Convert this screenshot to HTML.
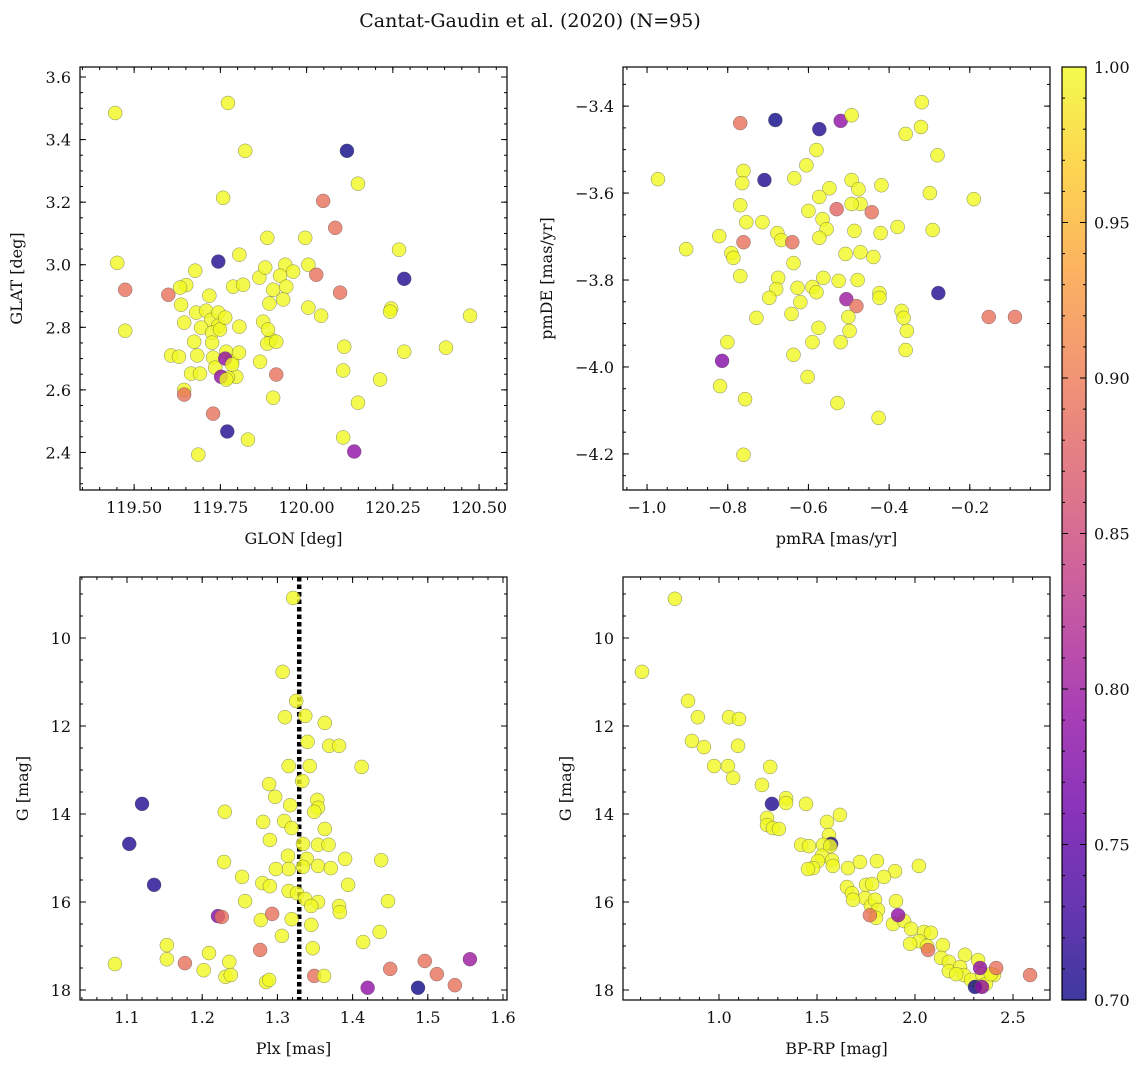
<!DOCTYPE html>
<html><head><meta charset="utf-8">
<style>
html,body{margin:0;padding:0;background:#fff;}
svg{display:block;font-family:"DejaVu Serif","Liberation Serif",serif;}
</style></head>
<body>
<svg id="fig" width="1148" height="1067" viewBox="0 0 1148 1067" xmlns="http://www.w3.org/2000/svg">
<text x="530" y="27" font-size="19" text-anchor="middle" fill="#111">Cantat-Gaudin et al. (2020) (N=95)</text>
</svg>
<script>
// ---- Panel 1: GLON vs GLAT ----
const p1x=[119.445,119.772,119.822,120.117,119.758,120.149,120.048,120.083,119.451,119.744,119.886,119.996,119.805,120.268,119.938,119.961,120.005,120.028,120.283,119.474,119.651,119.677,119.633,119.718,119.787,119.816,119.863,119.880,119.923,119.903,119.941,119.892,119.932,120.005,120.042,120.097,120.245,120.242,120.474,119.474,119.599,119.636,119.645,119.680,119.709,119.723,119.744,119.744,119.694,119.726,119.749,119.764,119.805,119.874,119.897,119.886,119.912,119.674,119.683,119.729,119.726,119.767,119.784,119.796,119.772,119.735,119.764,119.752,119.784,119.607,119.630,119.665,119.645,119.645,119.691,119.767,119.912,119.865,119.903,119.770,119.729,119.830,119.686,119.804,120.109,120.106,120.213,120.283,120.404,120.149,120.106,120.138,119.888];
const p1y=[3.485,3.517,3.364,3.364,3.214,3.259,3.204,3.118,3.006,3.010,3.086,3.086,3.032,3.048,3.000,2.978,3.000,2.968,2.955,2.920,2.935,2.981,2.927,2.901,2.930,2.936,2.959,2.991,2.965,2.920,2.930,2.876,2.889,2.863,2.837,2.911,2.860,2.850,2.837,2.789,2.904,2.872,2.815,2.847,2.853,2.824,2.847,2.805,2.799,2.783,2.793,2.831,2.802,2.818,2.761,2.748,2.754,2.754,2.710,2.703,2.751,2.722,2.690,2.642,2.639,2.671,2.700,2.642,2.681,2.710,2.706,2.652,2.600,2.585,2.652,2.633,2.649,2.690,2.575,2.467,2.524,2.441,2.393,2.719,2.738,2.662,2.633,2.722,2.735,2.559,2.448,2.403,2.793];
const p1c=[1,1,1,0.70,1,1,0.89,0.89,1,0.71,1,1,1,1,1,1,1,0.89,0.71,0.89,1,1,1,1,1,1,1,1,1,1,1,1,1,1,1,0.89,1,1,1,1,0.89,1,1,1,1,1,1,1,1,1,1,1,1,1,1,1,1,1,1,1,1,1,1,1,1,1,0.79,0.79,1,1,1,1,1,0.89,1,1,0.89,1,1,0.71,0.89,1,1,1,1,1,1,1,1,1,1,0.79,1];
// ---- Panel 2: pmRA vs pmDE ----
const p2x=[-0.769,-0.682,-0.573,-0.520,-0.493,-0.319,-0.321,-0.359,-0.280,-0.580,-0.709,-0.973,-0.761,-0.764,-0.635,-0.605,-0.548,-0.573,-0.419,-0.493,-0.476,-0.471,-0.493,-0.299,-0.190,-0.769,-0.600,-0.754,-0.714,-0.761,-0.565,-0.530,-0.443,-0.555,-0.677,-0.667,-0.640,-0.573,-0.486,-0.421,-0.379,-0.292,-0.471,-0.439,-0.508,-0.903,-0.821,-0.791,-0.786,-0.637,-0.769,-0.675,-0.563,-0.590,-0.627,-0.680,-0.697,-0.580,-0.525,-0.478,-0.424,-0.424,-0.506,-0.620,-0.729,-0.642,-0.481,-0.501,-0.369,-0.364,-0.356,-0.575,-0.498,-0.520,-0.590,-0.801,-0.359,-0.637,-0.814,-0.819,-0.602,-0.528,-0.757,-0.426,-0.761,-0.153,-0.088,-0.278];
const p2y=[-3.439,-3.432,-3.453,-3.434,-3.421,-3.391,-3.448,-3.464,-3.513,-3.501,-3.570,-3.568,-3.549,-3.577,-3.566,-3.536,-3.589,-3.609,-3.582,-3.570,-3.591,-3.625,-3.625,-3.600,-3.614,-3.628,-3.641,-3.667,-3.667,-3.713,-3.660,-3.637,-3.644,-3.683,-3.692,-3.708,-3.713,-3.703,-3.687,-3.692,-3.678,-3.685,-3.736,-3.747,-3.740,-3.729,-3.699,-3.738,-3.749,-3.761,-3.791,-3.795,-3.795,-3.816,-3.818,-3.821,-3.841,-3.828,-3.802,-3.800,-3.830,-3.841,-3.844,-3.851,-3.887,-3.878,-3.860,-3.885,-3.871,-3.887,-3.917,-3.910,-3.917,-3.943,-3.943,-3.943,-3.961,-3.972,-3.986,-4.044,-4.023,-4.083,-4.074,-4.117,-4.202,-3.885,-3.885,-3.830];
const p2c=[0.89,0.70,0.71,0.79,1,1,1,1,1,1,0.71,1,1,1,1,1,1,1,1,1,1,1,1,1,1,1,1,1,1,0.89,1,0.88,0.89,1,1,1,0.89,1,1,1,1,1,1,1,1,1,1,1,1,1,1,1,1,1,1,1,1,1,1,1,1,1,0.80,1,1,1,0.89,1,1,1,1,1,1,1,1,1,1,1,0.78,1,1,1,1,1,1,0.89,0.89,0.71];
// ---- Panel 3: Plx vs G ----
const p3x=[1.321,1.307,1.325,1.310,1.337,1.363,1.315,1.343,1.340,1.369,1.382,1.412,1.289,1.297,1.353,1.354,1.317,1.230,1.120,1.281,1.309,1.319,1.349,1.363,1.103,1.290,1.334,1.354,1.368,1.314,1.339,1.315,1.298,1.334,1.354,1.371,1.390,1.438,1.229,1.253,1.280,1.290,1.394,1.136,1.315,1.326,1.337,1.354,1.345,1.257,1.382,1.383,1.447,1.319,1.278,1.293,1.221,1.226,1.345,1.306,1.436,1.414,1.347,1.153,1.209,1.236,1.277,1.153,1.177,1.084,1.202,1.231,1.238,1.285,1.289,1.349,1.362,1.420,1.450,1.496,1.512,1.536,1.556,1.487,1.333];
const p3y=[9.09,10.77,11.43,11.80,11.77,11.93,12.91,12.91,12.36,12.45,12.45,12.93,13.32,13.61,13.68,13.86,13.80,13.95,13.77,14.18,14.16,14.32,13.95,14.34,14.68,14.59,14.68,14.70,14.70,14.95,15.02,15.25,15.25,15.20,15.18,15.23,15.02,15.05,15.09,15.43,15.57,15.64,15.61,15.61,15.75,15.80,15.93,16.00,16.09,15.98,16.09,16.23,15.98,16.39,16.41,16.27,16.32,16.34,16.52,16.77,16.68,16.91,17.05,16.98,17.16,17.36,17.09,17.30,17.39,17.41,17.55,17.70,17.66,17.82,17.77,17.68,17.68,17.95,17.52,17.34,17.64,17.89,17.30,17.95,13.25];
const p3c=[1,1,1,1,1,1,1,1,1,1,1,1,1,1,1,1,1,1,0.71,1,1,1,1,1,0.71,1,1,1,1,1,1,1,1,1,1,1,1,1,1,1,1,1,1,0.71,1,1,1,1,1,1,1,1,1,1,1,0.89,0.78,0.89,1,1,1,1,1,1,1,1,0.89,1,0.89,1,1,1,1,1,1,0.89,1,0.79,0.89,0.89,0.89,0.89,0.80,0.70,1];
const plxLine=1.329;
// ---- Panel 4: BP-RP vs G ----
const p4x=[0.775,0.607,0.842,0.892,1.051,1.102,0.862,0.923,1.097,0.975,1.046,1.261,1.072,1.219,1.342,1.342,1.270,1.444,1.617,1.245,1.245,1.275,1.306,1.551,1.561,1.572,1.419,1.459,1.531,1.567,1.525,1.505,1.577,1.480,1.454,1.581,1.658,1.719,1.806,2.020,1.898,1.750,1.781,1.653,1.842,1.678,1.745,1.775,1.796,1.811,1.903,1.801,1.770,1.888,1.944,1.914,1.980,2.046,2.081,2.020,2.061,2.142,2.067,2.133,2.173,2.255,2.173,2.230,2.322,2.250,2.286,2.342,2.403,2.332,2.362,2.387,2.306,2.342,2.332,2.587,2.414,1.684,1.975,2.210];
const p4y=[9.11,10.77,11.43,11.80,11.80,11.84,12.34,12.48,12.45,12.91,12.91,12.93,13.18,13.34,13.64,13.75,13.77,13.77,14.02,14.09,14.25,14.32,14.34,14.18,14.48,14.68,14.70,14.73,14.70,14.73,14.95,15.07,15.05,15.23,15.25,15.18,15.23,15.09,15.07,15.18,15.30,15.61,15.59,15.66,15.43,15.80,15.91,16.09,15.95,16.18,15.98,16.36,16.30,16.50,16.43,16.30,16.61,16.68,16.70,16.89,17.00,16.98,17.09,17.27,17.36,17.20,17.57,17.48,17.32,17.66,17.77,17.64,17.66,17.91,17.86,17.64,17.93,17.93,17.50,17.66,17.50,15.95,16.95,17.64];
const p4c=[1,1,1,1,1,1,1,1,1,1,1,1,1,1,1,1,0.71,1,1,1,1,1,1,1,1,0.71,1,1,1,1,1,1,1,1,1,1,1,1,1,1,1,1,1,1,1,1,1,1,1,1,1,1,0.89,1,1,0.79,1,1,1,1,1,1,0.89,1,1,1,1,1,1,1,1,1,1,1,1,1,0.70,0.79,0.79,0.89,0.89,1,1,1];
// colorbar ticks
const cbTicks=[0.70,0.75,0.80,0.85,0.90,0.95,1.00];

const NS="http://www.w3.org/2000/svg";
const svg=document.getElementById('fig');
function mk(tag,attrs,parent){const e=document.createElementNS(NS,tag);for(const k in attrs)e.setAttribute(k,attrs[k]);(parent||svg).appendChild(e);return e;}
const stops=[[0,13,8,135],[0.1,65,4,157],[0.2,106,0,168],[0.3,143,13,164],[0.4,177,42,144],[0.5,204,71,120],[0.6,225,100,98],[0.7,242,132,75],[0.8,252,166,54],[0.9,252,206,37],[1,240,249,33]];
function plasma(t){t=Math.max(0,Math.min(1,t));for(let i=1;i<stops.length;i++){if(t<=stops[i][0]){const a=stops[i-1],b=stops[i];const f=(t-a[0])/(b[0]-a[0]);return 'rgb('+[1,2,3].map(j=>Math.round(a[j]+(b[j]-a[j])*f)).join(',')+')';}}return 'rgb(240,249,33)';}
function cmap(p){return plasma((p-0.7)/0.3);}
function fmt(v,d){const s=Math.abs(v).toFixed(d);return (v<-1e-9?'\u2212':'')+s;}

function panel(o){
  const {L,T,W,H,xmin,xmax,ymin,ymax,inv}=o;
  const g=mk('g',{});
  
  
  const sx=v=>L+(v-xmin)/(xmax-xmin)*W;
  const sy=v=>inv? T+(v-ymin)/(ymax-ymin)*H : T+H-(v-ymin)/(ymax-ymin)*H;
  const B=T+H,R=L+W;
  const tg=mk('g',{stroke:'#000','stroke-width':1},g);
  
  
  function xt(step,len,lab,dec){const s0=Math.ceil(xmin/step-1e-6);for(let k=s0;k*step<=xmax+1e-9;k++){const v=k*step;const x=sx(v);mk('line',{x1:x,y1:B,x2:x,y2:B-len},tg);mk('line',{x1:x,y1:T,x2:x,y2:T+len},tg);
    if(lab){const t=mk('text',{x:x,y:B+23,'font-size':16,'text-anchor':'middle',fill:'#111',stroke:'none'},g);t.textContent=fmt(v,dec);}}}
  function yt(step,len,lab,dec){const lo=Math.min(ymin,ymax),hi=Math.max(ymin,ymax);const s0=Math.ceil(lo/step-1e-6);for(let k=s0;k*step<=hi+1e-9;k++){const v=k*step;const y=sy(v);mk('line',{x1:L,y1:y,x2:L+len,y2:y},tg);mk('line',{x1:R,y1:y,x2:R-len,y2:y},tg);
    if(lab){const t=mk('text',{x:L-9,y:y+6,'font-size':16,'text-anchor':'end',fill:'#111',stroke:'none'},g);t.textContent=fmt(v,dec);}}}
  xt(o.xmin_step,3,false);xt(o.xmaj,6,true,o.xdec);
  yt(o.ymin_step,3,false);yt(o.ymaj,6,true,o.ydec);
  if(o.vline!==undefined){const l=mk('line',{x1:sx(o.vline),y1:T,x2:sx(o.vline),y2:B,stroke:'#000','stroke-width':4.5,'stroke-dasharray':'4.5 3'},g);}
  const pg=mk('g',{},g);
  
  
  for(let i=0;i<o.xs.length;i++){
    const c=mk('circle',{cx:sx(o.xs[i]),cy:sy(o.ys[i]),r:7,fill:cmap(o.cs[i]),'fill-opacity':0.8,stroke:'#555','stroke-opacity':0.7,'stroke-width':0.5},pg);
    
    
  }
  const fr=mk('rect',{x:L,y:T,width:W,height:H,fill:'none',stroke:'#000','stroke-width':1.2},g);
  
  
  const xl=mk('text',{x:L+W/2,y:B+54,'font-size':16,'text-anchor':'middle',fill:'#111'},g);xl.textContent=o.xlabel;
  
  
  const yl=mk('text',{x:0,y:0,'font-size':16,'text-anchor':'middle',fill:'#111',transform:`translate(${o.ylx},${T+H/2}) rotate(-90)`},g);yl.textContent=o.ylabel;
  
  
}
panel({name:'glon-glat-panel',L:80,T:67,W:427,H:423,xmin:119.343,xmax:120.581,ymin:2.28,ymax:3.632,xmaj:0.25,xmin_step:0.05,xdec:2,ymaj:0.2,ymin_step:0.05,ydec:1,xs:p1x,ys:p1y,cs:p1c,xlabel:'GLON [deg]',ylabel:'GLAT [deg]',ylx:22});
panel({name:'proper-motion-panel',L:623,T:67,W:427,H:423,xmin:-1.0596,xmax:-0.0012,ymin:-4.283,ymax:-3.310,xmaj:0.2,xmin_step:0.05,xdec:1,ymaj:0.2,ymin_step:0.05,ydec:1,xs:p2x,ys:p2y,cs:p2c,xlabel:'pmRA [mas/yr]',ylabel:'pmDE [mas/yr]',ylx:552});
panel({name:'parallax-magnitude-panel',L:80,T:577,W:427,H:423,xmin:1.0375,xmax:1.6053,ymin:8.614,ymax:18.227,inv:true,xmaj:0.1,xmin_step:0.02,xdec:1,ymaj:2,ymin_step:0.5,ydec:0,xs:p3x,ys:p3y,cs:p3c,xlabel:'Plx [mas]',ylabel:'G [mag]',ylx:28,vline:plxLine});
panel({name:'color-magnitude-panel',L:623,T:577,W:427,H:423,xmin:0.5102,xmax:2.6888,ymin:8.614,ymax:18.227,inv:true,xmaj:0.5,xmin_step:0.1,xdec:1,ymaj:2,ymin_step:0.5,ydec:0,xs:p4x,ys:p4y,cs:p4c,xlabel:'BP-RP [mag]',ylabel:'G [mag]',ylx:571});

const cb=mk('g',{});


const defs=mk('defs',{},cb);
const lg=mk('linearGradient',{id:'pl',x1:0,y1:1,x2:0,y2:0},defs);
for(let i=0;i<=20;i++){mk('stop',{offset:i/20,'stop-color':plasma(i/20),'stop-opacity':0.8},lg);}
const cL=1062,cT=67,cW=24,cH=933;
const cr=mk('rect',{x:cL,y:cT,width:cW,height:cH,fill:'url(#pl)',stroke:'#000','stroke-width':1.2},cb);


const cy=v=>cT+cH-(v-0.7)/0.3*cH;
for(let k=70;k<=100;k++){const v=k/100,y=cy(v);const maj=k%5===0;mk('line',{x1:cL+cW,y1:y,x2:cL+cW-(maj?6:3),y2:y,stroke:'#000'},cb);mk('line',{x1:cL,y1:y,x2:cL+(maj?6:3),y2:y,stroke:'#000'},cb);}
cbTicks.forEach(v=>{const t=mk('text',{x:cL+cW+8,y:cy(v)+6,'font-size':16,fill:'#111'},cb);t.textContent=v.toFixed(2);
  
  });
</script>
</body></html>
